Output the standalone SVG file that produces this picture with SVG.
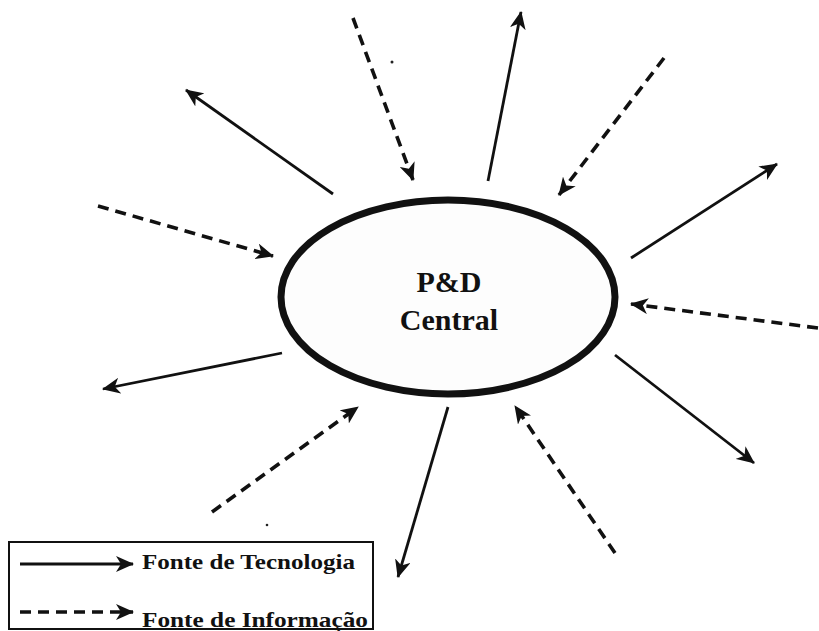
<svg xmlns="http://www.w3.org/2000/svg" width="819" height="631" viewBox="0 0 819 631">
  <style>
    .tech { fill: none; stroke: #111; stroke-width: 2.8; marker-end: url(#head); }
    .info { fill: none; stroke: #111; stroke-width: 3.6; stroke-dasharray: 11 7; marker-end: url(#head); }
    .label { font-family: 'Liberation Serif', Tinos, 'Times New Roman', Times, serif; font-weight: 700; fill: #111; }
  </style>
  <defs>
    <marker id="head" viewBox="0 0 18 16" refX="17" refY="8" markerWidth="18" markerHeight="16" markerUnits="userSpaceOnUse" orient="auto">
      <path d="M0,0 L18,8 L0,16 L5,8 z" fill="#111"/>
    </marker>
  </defs>
  <rect width="819" height="631" fill="#fff"/>

  <!-- central node -->
  <g id="node-pd-central">
    <ellipse cx="448" cy="297" rx="167" ry="97" fill="#fdfdfd" stroke="#111" stroke-width="7"/>
    <text class="label" x="449" y="292" font-size="30" text-anchor="middle">P&amp;D</text>
    <text class="label" x="449" y="330" font-size="30" text-anchor="middle">Central</text>
  </g>

  <!-- radiating connectors: solid = technology, dashed = information -->
  <g id="connectors">
    <line class="info" x1="353" y1="18" x2="413" y2="180"/>
    <line class="tech" x1="488" y1="181" x2="521" y2="12"/>
    <line class="info" x1="664" y1="58" x2="559" y2="195"/>
    <line class="tech" x1="631" y1="258" x2="777" y2="164"/>
    <line class="info" x1="818" y1="328" x2="631" y2="304"/>
    <line class="tech" x1="615" y1="355" x2="754" y2="463"/>
    <line class="info" x1="615" y1="553" x2="515" y2="406"/>
    <line class="tech" x1="448" y1="407" x2="398" y2="577"/>
    <line class="info" x1="212" y1="512" x2="358" y2="407"/>
    <line class="tech" x1="282" y1="353" x2="103" y2="389"/>
    <line class="info" x1="98" y1="206" x2="273" y2="256"/>
    <line class="tech" x1="333" y1="194" x2="186" y2="90"/>
  </g>

  <!-- specks -->
  <circle cx="392" cy="62" r="1.5" fill="#222"/>
  <circle cx="267" cy="525" r="1.3" fill="#222"/>

  <!-- legend -->
  <g id="legend">
    <rect x="9" y="542" width="364" height="87" fill="none" stroke="#111" stroke-width="2"/>
    <line class="tech" x1="20" y1="564" x2="133" y2="564"/>
    <text class="label" x="142" y="569" font-size="21" textLength="213" lengthAdjust="spacingAndGlyphs">Fonte de Tecnologia</text>
    <line class="info" x1="20" y1="612" x2="133" y2="612"/>
    <text class="label" x="142" y="627" font-size="21" textLength="226" lengthAdjust="spacingAndGlyphs">Fonte de Informação</text>
  </g>
</svg>
